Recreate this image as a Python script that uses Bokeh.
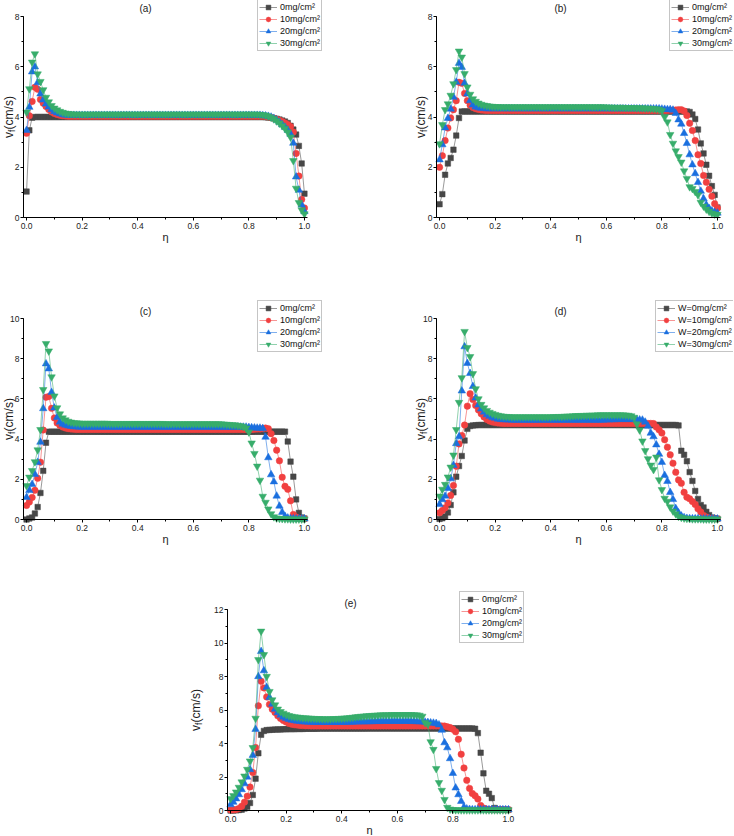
import math
from bokeh.plotting import figure
from bokeh.models import (Range1d, SingleIntervalTicker, NumeralTickFormatter,
                          Legend, LegendItem, Label, Spacer)
from bokeh.layouts import column, row
from bokeh.embed import file_html
from bokeh.resources import INLINE

# ---------------- data ----------------
ETA = [i / 100 for i in range(101)]

# panel (a)
A0 = [1.03, 3.47, 3.97, 4.0, 4.0, 4.0, 4.0, 4.0, 4.0, 4.0,
      4.0, 4.0, 4.0, 4.0, 4.0, 4.0, 4.0, 4.0, 4.0, 4.0,
      4.0, 4.0, 4.0, 4.0, 4.0, 4.0, 4.0, 4.0, 4.0, 4.0,
      4.0, 4.0, 4.0, 4.0, 4.0, 4.0, 4.0, 4.0, 4.0, 4.0,
      4.0, 4.0, 4.0, 4.0, 4.0, 4.0, 4.0, 4.0, 4.0, 4.0,
      4.0, 4.0, 4.0, 4.0, 4.0, 4.0, 4.0, 4.0, 4.0, 4.0,
      4.0, 4.0, 4.0, 4.0, 4.0, 4.0, 4.0, 4.0, 4.0, 4.0,
      4.0, 4.0, 4.0, 4.0, 4.0, 4.0, 4.0, 4.0, 4.0, 4.0,
      4.0, 4.0, 4.0, 4.0, 4.0, 4.0, 3.99, 3.98, 3.97, 3.95,
      3.93, 3.9, 3.86, 3.82, 3.76, 3.65, 3.5, 3.3, 2.85, 2.15,
      0.95]
A10 = [3.35, 4.05, 4.62, 5.18, 5.1, 4.7, 4.55, 4.42, 4.3, 4.2,
       4.14, 4.1, 4.07, 4.05, 4.04, 4.03, 4.03, 4.03, 4.03, 4.03,
       4.03, 4.03, 4.03, 4.03, 4.03, 4.03, 4.03, 4.03, 4.03, 4.03,
       4.03, 4.03, 4.03, 4.03, 4.03, 4.03, 4.03, 4.03, 4.03, 4.03,
       4.03, 4.03, 4.03, 4.03, 4.03, 4.03, 4.03, 4.03, 4.03, 4.03,
       4.03, 4.03, 4.03, 4.03, 4.03, 4.03, 4.03, 4.03, 4.03, 4.03,
       4.03, 4.03, 4.03, 4.03, 4.03, 4.03, 4.03, 4.03, 4.03, 4.03,
       4.03, 4.03, 4.03, 4.03, 4.03, 4.03, 4.03, 4.03, 4.03, 4.03,
       4.03, 4.03, 4.03, 4.03, 4.03, 4.03, 4.02, 4.0, 3.98, 3.95,
       3.91, 3.87, 3.82, 3.76, 3.7, 3.62, 3.4, 2.55, 1.65, 0.72,
       0.38]
A20 = [3.47, 4.39, 5.8, 6.0, 5.37, 4.92, 4.68, 4.52, 4.4, 4.3,
       4.22, 4.17, 4.13, 4.1, 4.08, 4.07, 4.07, 4.07, 4.07, 4.07,
       4.07, 4.07, 4.07, 4.07, 4.07, 4.07, 4.07, 4.07, 4.07, 4.07,
       4.07, 4.07, 4.07, 4.07, 4.07, 4.07, 4.07, 4.07, 4.07, 4.07,
       4.07, 4.07, 4.07, 4.07, 4.07, 4.07, 4.07, 4.07, 4.07, 4.07,
       4.07, 4.07, 4.07, 4.07, 4.07, 4.07, 4.07, 4.07, 4.07, 4.07,
       4.07, 4.07, 4.07, 4.07, 4.07, 4.07, 4.07, 4.07, 4.07, 4.07,
       4.07, 4.07, 4.07, 4.07, 4.07, 4.07, 4.07, 4.07, 4.07, 4.07,
       4.07, 4.07, 4.07, 4.07, 4.07, 4.06, 4.05, 4.03, 4.0, 3.95,
       3.88, 3.8, 3.7, 3.6, 3.48, 3.32, 2.96, 1.62, 1.09, 0.5,
       0.24]
A30 = [4.19, 5.12, 6.18, 6.51, 5.71, 5.41, 5.08, 4.78, 4.6, 4.45,
       4.35, 4.28, 4.22, 4.18, 4.15, 4.13, 4.12, 4.11, 4.11, 4.11,
       4.11, 4.11, 4.11, 4.11, 4.11, 4.11, 4.11, 4.11, 4.11, 4.11,
       4.11, 4.11, 4.11, 4.11, 4.11, 4.11, 4.11, 4.11, 4.11, 4.11,
       4.11, 4.11, 4.11, 4.11, 4.11, 4.11, 4.11, 4.11, 4.11, 4.11,
       4.11, 4.11, 4.11, 4.11, 4.11, 4.11, 4.11, 4.11, 4.11, 4.11,
       4.11, 4.11, 4.11, 4.11, 4.11, 4.11, 4.11, 4.11, 4.11, 4.11,
       4.11, 4.11, 4.11, 4.11, 4.11, 4.11, 4.11, 4.11, 4.11, 4.11,
       4.11, 4.11, 4.11, 4.11, 4.1, 4.09, 4.07, 4.03, 3.98, 3.92,
       3.84, 3.75, 3.65, 3.54, 3.4, 3.2, 2.26, 1.16, 0.59, 0.3,
       0.14]

# panel (b)
B0 = [0.53, 0.93, 1.7, 2.15, 2.37, 2.7, 3.26, 3.96, 4.22, 4.22,
      4.22, 4.22, 4.22, 4.22, 4.22, 4.22, 4.22, 4.22, 4.22, 4.22,
      4.22, 4.22, 4.22, 4.22, 4.22, 4.22, 4.22, 4.22, 4.22, 4.22,
      4.22, 4.22, 4.22, 4.22, 4.22, 4.22, 4.22, 4.22, 4.22, 4.22,
      4.22, 4.22, 4.22, 4.22, 4.22, 4.22, 4.22, 4.22, 4.22, 4.22,
      4.22, 4.22, 4.22, 4.22, 4.22, 4.22, 4.22, 4.22, 4.22, 4.22,
      4.22, 4.22, 4.22, 4.22, 4.22, 4.22, 4.22, 4.22, 4.22, 4.22,
      4.22, 4.22, 4.22, 4.22, 4.22, 4.22, 4.22, 4.22, 4.22, 4.22,
      4.22, 4.22, 4.22, 4.22, 4.22, 4.22, 4.22, 4.22, 4.22, 4.22,
      4.2, 4.1, 3.92, 3.5, 2.95, 2.55, 2.1, 1.66, 1.25, 0.9,
      0.4]
B10 = [2.0, 2.46, 3.06, 3.56, 3.96, 4.29, 4.65, 5.38, 5.34, 4.94,
       4.65, 4.47, 4.38, 4.33, 4.3, 4.28, 4.27, 4.26, 4.26, 4.26,
       4.26, 4.26, 4.26, 4.26, 4.26, 4.26, 4.26, 4.26, 4.26, 4.26,
       4.26, 4.26, 4.26, 4.26, 4.26, 4.26, 4.26, 4.26, 4.26, 4.26,
       4.26, 4.26, 4.26, 4.26, 4.26, 4.26, 4.26, 4.26, 4.26, 4.26,
       4.26, 4.26, 4.26, 4.26, 4.26, 4.26, 4.26, 4.26, 4.26, 4.26,
       4.26, 4.26, 4.26, 4.26, 4.26, 4.26, 4.26, 4.26, 4.26, 4.26,
       4.26, 4.26, 4.26, 4.26, 4.26, 4.26, 4.26, 4.26, 4.26, 4.26,
       4.26, 4.26, 4.26, 4.27, 4.27, 4.28, 4.29, 4.29, 4.24, 4.06,
       3.75, 3.46, 3.06, 2.5, 2.15, 1.67, 1.4, 1.12, 0.85, 0.55,
       0.38]
B20 = [2.3, 2.9, 3.57, 3.95, 4.32, 4.79, 5.39, 6.14, 5.98, 5.35,
       4.92, 4.65, 4.48, 4.4, 4.37, 4.35, 4.34, 4.33, 4.33, 4.33,
       4.33, 4.33, 4.33, 4.33, 4.33, 4.33, 4.33, 4.33, 4.33, 4.33,
       4.33, 4.33, 4.33, 4.33, 4.33, 4.33, 4.33, 4.33, 4.33, 4.33,
       4.33, 4.33, 4.33, 4.33, 4.33, 4.33, 4.33, 4.33, 4.33, 4.33,
       4.33, 4.33, 4.33, 4.33, 4.33, 4.33, 4.33, 4.33, 4.33, 4.33,
       4.33, 4.33, 4.33, 4.33, 4.33, 4.33, 4.33, 4.33, 4.33, 4.33,
       4.33, 4.33, 4.33, 4.33, 4.33, 4.33, 4.33, 4.33, 4.33, 4.33,
       4.32, 4.31, 4.3, 4.3, 4.28, 4.15, 3.89, 3.72, 3.35, 2.95,
       2.5, 2.1, 1.75, 1.4, 1.05, 0.75, 0.5, 0.36, 0.27, 0.21,
       0.18]
B30 = [2.93, 3.69, 4.29, 4.52, 4.86, 5.32, 5.88, 6.62, 6.38, 5.72,
       5.19, 4.9, 4.72, 4.62, 4.55, 4.5, 4.47, 4.45, 4.43, 4.42,
       4.41, 4.41, 4.4, 4.4, 4.4, 4.4, 4.4, 4.4, 4.4, 4.4,
       4.4, 4.4, 4.4, 4.4, 4.4, 4.4, 4.4, 4.4, 4.4, 4.4,
       4.4, 4.4, 4.4, 4.4, 4.4, 4.4, 4.4, 4.4, 4.4, 4.4,
       4.4, 4.4, 4.4, 4.4, 4.4, 4.4, 4.4, 4.4, 4.4, 4.4,
       4.39, 4.39, 4.39, 4.38, 4.38, 4.38, 4.38, 4.37, 4.37, 4.37,
       4.37, 4.36, 4.36, 4.36, 4.35, 4.35, 4.34, 4.33, 4.32, 4.3,
       4.25, 4.0, 3.8, 3.3, 2.95, 2.65, 2.42, 2.2, 1.85, 1.55,
       1.22, 1.15, 1.03, 0.9, 0.6, 0.45, 0.33, 0.24, 0.17, 0.13,
       0.12]

# panel (c)
C0 = [0.0, 0.05, 0.1, 0.3, 0.62, 1.32, 2.42, 3.82, 4.37, 4.37,
      4.37, 4.37, 4.37, 4.37, 4.37, 4.37, 4.37, 4.37, 4.37, 4.37,
      4.37, 4.37, 4.37, 4.37, 4.37, 4.37, 4.37, 4.37, 4.37, 4.37,
      4.37, 4.37, 4.37, 4.37, 4.37, 4.37, 4.37, 4.37, 4.37, 4.37,
      4.37, 4.37, 4.37, 4.37, 4.37, 4.37, 4.37, 4.37, 4.37, 4.37,
      4.37, 4.37, 4.37, 4.37, 4.37, 4.37, 4.37, 4.37, 4.37, 4.37,
      4.37, 4.37, 4.37, 4.37, 4.37, 4.37, 4.37, 4.37, 4.37, 4.37,
      4.37, 4.37, 4.37, 4.37, 4.37, 4.37, 4.37, 4.37, 4.37, 4.37,
      4.37, 4.37, 4.37, 4.37, 4.37, 4.37, 4.37, 4.37, 4.37, 4.37,
      4.37, 4.37, 4.37, 4.37, 3.88, 2.88, 2.13, 1.0, 0.33, 0.1,
      0.05]
C10 = [0.7, 0.87, 1.1, 1.45, 2.05, 2.85, 4.45, 6.08, 6.12, 5.53,
       5.05, 4.8, 4.68, 4.6, 4.55, 4.52, 4.5, 4.49, 4.48, 4.48,
       4.48, 4.48, 4.48, 4.48, 4.48, 4.48, 4.48, 4.48, 4.48, 4.48,
       4.48, 4.48, 4.48, 4.48, 4.48, 4.48, 4.48, 4.48, 4.48, 4.48,
       4.48, 4.48, 4.48, 4.48, 4.48, 4.48, 4.48, 4.48, 4.48, 4.48,
       4.48, 4.48, 4.48, 4.48, 4.48, 4.48, 4.48, 4.48, 4.48, 4.48,
       4.48, 4.48, 4.48, 4.48, 4.48, 4.48, 4.48, 4.48, 4.48, 4.48,
       4.48, 4.48, 4.48, 4.48, 4.48, 4.48, 4.48, 4.48, 4.48, 4.48,
       4.48, 4.48, 4.49, 4.5, 4.5, 4.52, 4.55, 4.52, 4.27, 3.93,
       3.45, 2.92, 2.1, 1.65, 1.5, 0.93, 0.25, 0.12, 0.06, 0.04,
       0.03]
C20 = [1.1, 1.45, 1.75, 2.25, 2.85, 3.85, 5.52, 7.75, 7.5, 6.33,
       5.55, 5.08, 4.85, 4.75, 4.7, 4.66, 4.64, 4.62, 4.61, 4.6,
       4.6, 4.6, 4.6, 4.6, 4.6, 4.6, 4.6, 4.6, 4.6, 4.6,
       4.6, 4.6, 4.6, 4.6, 4.6, 4.6, 4.6, 4.6, 4.6, 4.6,
       4.6, 4.6, 4.6, 4.6, 4.6, 4.6, 4.6, 4.6, 4.6, 4.6,
       4.6, 4.6, 4.6, 4.6, 4.6, 4.6, 4.6, 4.6, 4.6, 4.6,
       4.6, 4.6, 4.6, 4.6, 4.6, 4.6, 4.6, 4.6, 4.6, 4.6,
       4.6, 4.6, 4.6, 4.6, 4.6, 4.6, 4.6, 4.6, 4.6, 4.6,
       4.58, 4.57, 4.56, 4.55, 4.55, 4.53, 4.1, 3.08, 2.23, 1.88,
       1.17, 0.67, 0.36, 0.16, 0.08, 0.05, 0.04, 0.03, 0.03, 0.03,
       0.03]
C30 = [1.68, 2.1, 2.43, 2.87, 3.46, 4.47, 6.46, 8.75, 8.38, 7.09,
       6.14, 5.55, 5.25, 5.05, 4.95, 4.88, 4.84, 4.81, 4.8, 4.79,
       4.78, 4.78, 4.78, 4.78, 4.78, 4.78, 4.78, 4.78, 4.78, 4.78,
       4.77, 4.77, 4.77, 4.77, 4.77, 4.77, 4.77, 4.77, 4.77, 4.77,
       4.77, 4.77, 4.77, 4.77, 4.77, 4.77, 4.77, 4.77, 4.77, 4.77,
       4.76, 4.76, 4.76, 4.76, 4.76, 4.76, 4.76, 4.76, 4.76, 4.76,
       4.76, 4.76, 4.76, 4.76, 4.76, 4.76, 4.76, 4.76, 4.76, 4.76,
       4.75, 4.74, 4.73, 4.72, 4.71, 4.7, 4.68, 4.66, 4.62, 4.55,
       4.35, 3.8, 3.28, 2.65, 1.95, 1.15, 0.85, 0.52, 0.28, 0.13,
       0.07, 0.05, 0.04, 0.03, 0.03, 0.02, 0.02, 0.02, 0.02, 0.02,
       0.02]

# panel (d)
D0 = [0.03, 0.06, 0.15, 0.35, 0.72, 1.35, 2.13, 2.66, 3.16, 3.93,
      4.51, 4.65, 4.68, 4.69, 4.7, 4.7, 4.7, 4.7, 4.7, 4.7,
      4.7, 4.7, 4.7, 4.7, 4.7, 4.7, 4.7, 4.7, 4.7, 4.7,
      4.7, 4.7, 4.7, 4.7, 4.7, 4.7, 4.7, 4.7, 4.7, 4.7,
      4.7, 4.7, 4.7, 4.7, 4.7, 4.7, 4.7, 4.7, 4.7, 4.7,
      4.7, 4.7, 4.7, 4.7, 4.7, 4.7, 4.7, 4.7, 4.7, 4.7,
      4.7, 4.7, 4.7, 4.7, 4.7, 4.7, 4.7, 4.7, 4.7, 4.7,
      4.7, 4.7, 4.7, 4.7, 4.7, 4.7, 4.7, 4.7, 4.7, 4.7,
      4.7, 4.7, 4.7, 4.7, 4.7, 4.7, 4.68, 3.42, 3.22, 2.9,
      2.36, 1.92, 1.42, 1.02, 0.72, 0.6, 0.38, 0.22, 0.1, 0.06,
      0.04]
D10 = [0.33, 0.45, 0.58, 0.82, 1.2, 1.69, 2.65, 3.76, 4.18, 4.7,
       5.64, 6.26, 5.97, 5.67, 5.45, 5.26, 5.1, 4.98, 4.9, 4.85,
       4.82, 4.8, 4.79, 4.78, 4.78, 4.78, 4.78, 4.78, 4.78, 4.78,
       4.78, 4.78, 4.78, 4.78, 4.78, 4.78, 4.78, 4.78, 4.78, 4.78,
       4.78, 4.78, 4.78, 4.78, 4.78, 4.78, 4.78, 4.78, 4.78, 4.78,
       4.78, 4.78, 4.78, 4.78, 4.78, 4.78, 4.78, 4.78, 4.78, 4.78,
       4.78, 4.78, 4.78, 4.78, 4.78, 4.78, 4.78, 4.78, 4.78, 4.78,
       4.78, 4.78, 4.78, 4.78, 4.78, 4.78, 4.78, 4.77, 4.6, 4.46,
       4.3, 3.97, 3.6, 3.22, 2.8, 2.35, 1.97, 1.8, 1.35, 1.11,
       1.03, 0.89, 0.75, 0.53, 0.37, 0.2, 0.12, 0.07, 0.05, 0.04,
       0.03]
D20 = [0.75, 0.99, 1.17, 1.55, 2.03, 2.7, 3.78, 4.12, 6.4, 8.6,
       7.77, 7.27, 6.62, 6.05, 5.7, 5.5, 5.35, 5.22, 5.14, 5.08,
       5.04, 5.0, 4.98, 4.97, 4.96, 4.96, 4.95, 4.95, 4.95, 4.95,
       4.95, 4.95, 4.95, 4.95, 4.95, 4.95, 4.95, 4.95, 4.95, 4.95,
       4.95, 4.95, 4.95, 4.95, 4.95, 4.95, 4.95, 4.95, 4.95, 4.95,
       4.95, 4.95, 4.95, 4.95, 4.95, 4.95, 4.95, 4.95, 4.95, 4.95,
       4.96, 4.96, 4.97, 4.97, 4.98, 4.98, 4.98, 4.98, 4.98, 4.98,
       4.98, 4.97, 4.96, 4.95, 4.85, 4.65, 4.3, 4.12, 3.72, 3.25,
       2.85, 2.2, 1.9, 1.35, 1.0, 0.55, 0.33, 0.18, 0.1, 0.06,
       0.05, 0.04, 0.04, 0.04, 0.03, 0.03, 0.03, 0.03, 0.03, 0.03,
       0.03]
D30 = [1.16, 1.5, 1.74, 2.11, 2.6, 3.2, 4.47, 5.82, 7.05, 9.35,
       8.55, 8.1, 7.25, 6.5, 6.0, 5.72, 5.55, 5.42, 5.33, 5.27,
       5.22, 5.18, 5.15, 5.13, 5.12, 5.11, 5.1, 5.1, 5.1, 5.1,
       5.1, 5.1, 5.1, 5.1, 5.1, 5.1, 5.1, 5.1, 5.1, 5.1,
       5.1, 5.11, 5.11, 5.12, 5.12, 5.13, 5.14, 5.14, 5.15, 5.16,
       5.16, 5.17, 5.17, 5.18, 5.18, 5.19, 5.19, 5.2, 5.2, 5.2,
       5.2, 5.2, 5.2, 5.2, 5.2, 5.2, 5.2, 5.19, 5.18, 5.15,
       5.08, 4.76, 4.45, 3.9, 3.42, 3.02, 2.7, 2.48, 3.1, 1.97,
       1.48, 1.05, 0.9, 0.62, 0.42, 0.28, 0.15, 0.1, 0.07, 0.05,
       0.04, 0.03, 0.03, 0.03, 0.03, 0.02, 0.02, 0.02, 0.02, 0.02,
       0.02]

# panel (e)
E0 = [0.0, 0.0, 0.01, 0.03, 0.05, 0.12, 0.22, 0.45, 0.93, 1.9,
      3.42, 4.52, 4.75, 4.8, 4.81, 4.82, 4.83, 4.84, 4.84, 4.85,
      4.85, 4.86, 4.86, 4.86, 4.87, 4.87, 4.87, 4.88, 4.88, 4.88,
      4.88, 4.88, 4.89, 4.89, 4.89, 4.89, 4.89, 4.89, 4.89, 4.89,
      4.89, 4.89, 4.89, 4.89, 4.89, 4.89, 4.89, 4.89, 4.89, 4.89,
      4.9, 4.9, 4.9, 4.9, 4.9, 4.9, 4.9, 4.9, 4.9, 4.9,
      4.9, 4.9, 4.9, 4.9, 4.9, 4.9, 4.9, 4.9, 4.9, 4.9,
      4.9, 4.9, 4.9, 4.9, 4.9, 4.9, 4.9, 4.9, 4.9, 4.9,
      4.9, 4.9, 4.9, 4.9, 4.9, 4.9, 4.9, 4.9, 4.88, 4.62,
      3.45, 2.22, 1.18, 1.0, 0.74, 0.15, 0.07, 0.05, 0.05, 0.04,
      0.04]
E10 = [0.03, 0.04, 0.06, 0.12, 0.25, 0.5, 0.85, 1.4, 2.27, 3.76,
       6.25, 7.72, 7.32, 6.78, 6.33, 6.05, 5.85, 5.65, 5.5, 5.38,
       5.28, 5.2, 5.15, 5.12, 5.1, 5.08, 5.07, 5.06, 5.06, 5.05,
       5.05, 5.05, 5.05, 5.05, 5.05, 5.05, 5.05, 5.05, 5.05, 5.05,
       5.05, 5.05, 5.05, 5.05, 5.05, 5.05, 5.05, 5.05, 5.05, 5.05,
       5.05, 5.05, 5.05, 5.05, 5.05, 5.05, 5.05, 5.05, 5.05, 5.05,
       5.05, 5.05, 5.05, 5.05, 5.05, 5.05, 5.05, 5.05, 5.05, 5.05,
       5.05, 5.05, 5.05, 5.05, 5.05, 5.05, 5.05, 5.04, 5.0, 4.95,
       4.85, 4.7, 4.25, 3.36, 2.54, 1.8, 1.32, 1.02, 0.88, 0.68,
       0.3, 0.15, 0.09, 0.06, 0.05, 0.05, 0.05, 0.05, 0.05, 0.05,
       0.05]
E20 = [0.35, 0.5, 0.7, 0.95, 1.25, 1.6, 2.0, 2.45, 3.3, 4.85,
       8.0, 9.5, 8.35, 7.35, 6.75, 6.35, 6.05, 5.85, 5.7, 5.58,
       5.5, 5.44, 5.4, 5.37, 5.34, 5.32, 5.3, 5.29, 5.28, 5.28,
       5.27, 5.27, 5.27, 5.27, 5.27, 5.27, 5.27, 5.27, 5.27, 5.27,
       5.27, 5.27, 5.28, 5.28, 5.28, 5.29, 5.29, 5.3, 5.3, 5.3,
       5.31, 5.31, 5.32, 5.32, 5.32, 5.33, 5.33, 5.33, 5.33, 5.33,
       5.33, 5.33, 5.33, 5.33, 5.33, 5.32, 5.32, 5.31, 5.3, 5.3,
       5.28, 5.26, 5.24, 5.22, 5.2, 5.12, 4.8, 4.05, 3.75, 3.1,
       2.22, 1.35, 0.95, 0.55, 0.2, 0.1, 0.07, 0.05, 0.05, 0.05,
       0.05, 0.05, 0.05, 0.05, 0.05, 0.05, 0.05, 0.05, 0.05, 0.05,
       0.05]
E30 = [0.7, 0.88, 1.1, 1.38, 1.7, 2.05, 2.45, 2.95, 3.75, 5.5,
       9.0, 10.7, 9.3, 8.0, 7.1, 6.6, 6.3, 6.05, 5.9, 5.8,
       5.72, 5.66, 5.62, 5.59, 5.57, 5.55, 5.53, 5.52, 5.51, 5.5,
       5.49, 5.48, 5.48, 5.47, 5.47, 5.47, 5.47, 5.48, 5.48, 5.49,
       5.5, 5.51, 5.52, 5.54, 5.56, 5.58, 5.6, 5.62, 5.63, 5.65,
       5.66, 5.67, 5.68, 5.69, 5.7, 5.7, 5.71, 5.71, 5.72, 5.72,
       5.72, 5.72, 5.72, 5.72, 5.72, 5.72, 5.71, 5.7, 5.68, 5.62,
       5.25, 5.15, 4.1, 3.64, 2.5, 1.66, 1.2, 0.65, 0.18, 0.08,
       0.05, 0.04, 0.04, 0.03, 0.03, 0.03, 0.03, 0.03, 0.03, 0.03,
       0.03, 0.03, 0.03, 0.03, 0.03, 0.03, 0.03, 0.03, 0.03, 0.03,
       0.03]

LABELS = ["0mg/cm²", "10mg/cm²", "20mg/cm²", "30mg/cm²"]
LABELS_W = ["W=0mg/cm²", "W=10mg/cm²", "W=20mg/cm²", "W=30mg/cm²"]
TAGS = ["(a)", "(b)", "(c)", "(d)", "(e)"]
YMAX = [8, 8, 10, 10, 12]
X_LIM = (-0.011, 1.011)

# ---------------- styling ----------------
FONT = "Liberation Sans"
COLORS = ["#474747", "#f14040", "#1a6fdf", "#37ad6b"]
MARKERS = ["square", "circle", "triangle", "inverted_triangle"]
MSIZE = [5.5, 6.5, 7.5, 7.5]
FW, FH = 284, 201          # data box size in px
LEG_H = 50


def panel(tag, series, labels, ymax, W, H, dleft, top,
          leg_x, leg_top, title_x, title_top, ylab_dx):
    """dleft/top: px from the canvas left/top edges to the data box."""
    bottom = H - top - FH
    sx = FW / (X_LIM[1] - X_LIM[0])
    sy = FH / ymax
    right = W - dleft - FW
    xr = Range1d(X_LIM[0] - dleft / sx, X_LIM[1] + right / sx)
    yr = Range1d(-bottom / sy, ymax + top / sy)
    p = figure(width=W, height=H, output_backend="svg", toolbar_location=None,
               x_range=xr, y_range=yr,
               min_border_left=0, min_border_right=0,
               min_border_top=0, min_border_bottom=0)
    p.grid.visible = False
    p.outline_line_color = None
    p.background_fill_color = "white"
    p.border_fill_color = "white"

    p.xaxis.ticker = SingleIntervalTicker(interval=0.2, num_minor_ticks=2)
    p.xaxis.formatter = NumeralTickFormatter(format="0.0")
    p.yaxis.ticker = SingleIntervalTicker(interval=2, num_minor_ticks=2)
    p.xaxis.fixed_location = 0
    p.yaxis.fixed_location = X_LIM[0]
    p.xaxis.bounds = X_LIM
    p.yaxis.bounds = (0, ymax)
    for ax in (p.xaxis[0], p.yaxis[0]):
        ax.axis_line_color = "#000000"
        ax.axis_line_width = 1
        ax.major_tick_line_color = "#000000"
        ax.major_tick_out = 3
        ax.major_tick_in = 0
        ax.minor_tick_line_color = "#000000"
        ax.minor_tick_out = 2
        ax.minor_tick_in = 0
        ax.major_label_text_font = FONT
        ax.major_label_text_font_size = "8.5px"
        ax.major_label_text_color = "#222222"
    p.xaxis.major_label_standoff = 2
    p.yaxis.major_label_standoff = 1

    items = []
    for k in range(4):
        rl = p.line(ETA, series[k], line_color=COLORS[k], line_width=0.8, line_alpha=0.7)
        rs = p.scatter(ETA, series[k], marker=MARKERS[k], size=MSIZE[k],
                       fill_color=COLORS[k], line_color=COLORS[k], line_width=0.5)
        items.append(LegendItem(label=labels[k], renderers=[rl, rs]))

    leg = Legend(items=items, location=(leg_x, H - leg_top - LEG_H),
                 label_text_font=FONT, label_text_font_size="9px", label_text_color="#111111",
                 glyph_width=18, glyph_height=12, label_height=12, label_standoff=3,
                 spacing=0, padding=1, margin=0,
                 border_line_color="#8c8c8c", border_line_width=1,
                 background_fill_color="white", background_fill_alpha=1.0)
    p.add_layout(leg)

    def lab(x, y, text, size, angle=0.0, align="center", baseline="middle"):
        p.add_layout(Label(x=x, y=y, x_units="screen", y_units="screen", text=text,
                           angle=angle, text_align=align, text_baseline=baseline,
                           text_font=FONT, text_font_size=size, text_color="#1a1a1a"))

    # panel title
    lab(title_x, H - title_top, tag, "10px")
    # x axis title
    lab(dleft + FW / 2, bottom - 19.5, "η", "11px")
    # y axis title: v with subscript f, reading bottom to top, centred at ylab_dx
    cx = dleft + ylab_dx
    y0 = bottom + FH / 2 - 21
    lab(cx, y0, "v", "12px", math.pi / 2, "left", "middle")
    lab(cx + 3.0, y0 + 6.0, "f", "8.5px", math.pi / 2, "left", "middle")
    lab(cx, y0 + 8.6, "(cm/s)", "12px", math.pi / 2, "left", "middle")
    return p


fig_a = panel(TAGS[0], [A0, A10, A20, A30], LABELS, YMAX[0], 366, 250, 23, 16,
              257, 1, 145, 8, -15)
fig_b = panel(TAGS[1], [B0, B10, B20, B30], LABELS, YMAX[1], 367, 250, 70, 16,
              303, 1, 194, 8, -16)
fig_c = panel(TAGS[2], [C0, C10, C20, C30], LABELS, YMAX[2], 366, 300, 23, 68,
              257, 52, 145, 61, -15)
fig_d = panel(TAGS[3], [D0, D10, D20, D30], LABELS_W, YMAX[3], 367, 300, 70, 68,
              289, 52, 194, 61, -16)
fig_e = panel(TAGS[4], [E0, E10, E20, E30], LABELS, YMAX[4], 346, 285, 47, 59,
              279, 43, 170, 53, -32)

layout = column(row(fig_a, fig_b), row(fig_c, fig_d),
                row(Spacer(width=180, height=285), fig_e))

open("out.html", "w").write(file_html(layout, INLINE))
